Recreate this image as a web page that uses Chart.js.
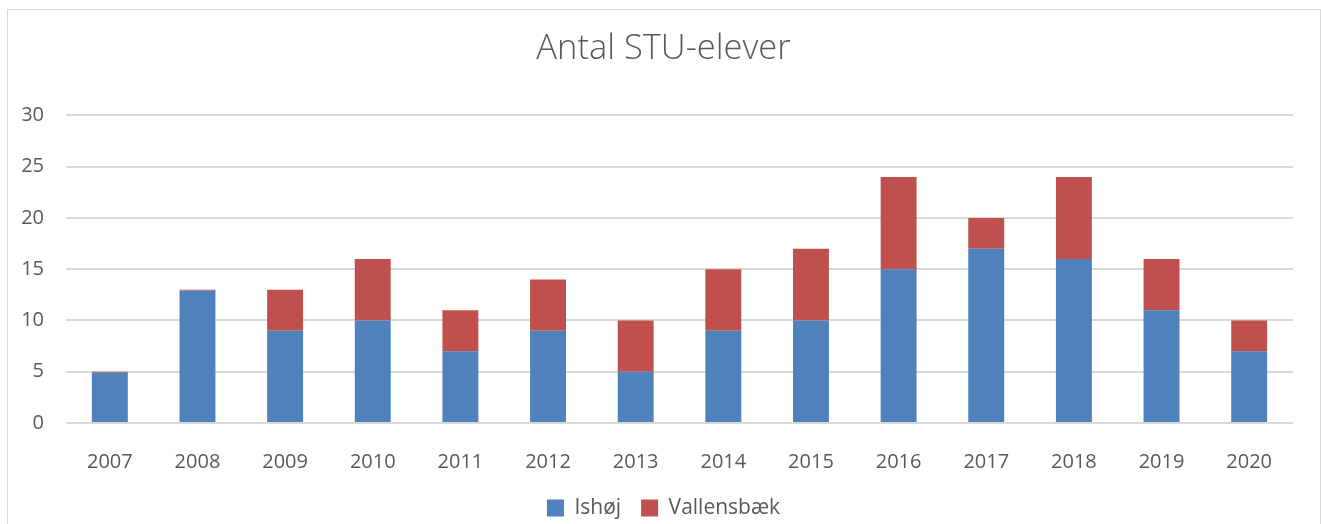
<!DOCTYPE html>
<html>
<head>
<meta charset="utf-8">
<script src="https://cdn.jsdelivr.net/npm/chart.js@4.4.1/dist/chart.umd.min.js"></script>
<style>
  html, body { margin: 0; padding: 0; background: #fff; }
  #wrap { position: relative; width: 1321px; height: 524px; }
  #ramme { position: absolute; left: 7px; top: 9px; width: 1312px; height: 530px; border: 1px solid #d9d9d9; }
  canvas { position: absolute; left: 0; top: 0; }
</style>
</head>
<body>
<div id="wrap">
  <div id="ramme"></div>
  <canvas id="myChart" width="1321" height="524"></canvas>
</div>
<script>
// Data
const aar = ['2007', '2008', '2009', '2010', '2011', '2012', '2013', '2014', '2015', '2016', '2017', '2018', '2019', '2020'];
const ishoj = [4.9, 12.9, 9, 10, 7, 9, 5, 9, 10, 15, 17, 16, 11, 7];
const vallensbaek = [0.1, 0.1, 4, 6, 4, 5, 5, 6, 7, 9, 3, 8, 5, 3];
const yTicks = [0, 5, 10, 15, 20, 25, 30];

const tekstFarve = '#595959';
const gitterFarve = '#d9d9d9';

const ctx = document.getElementById('myChart').getContext('2d');
const miGrafica = new Chart(ctx, {
    type: 'bar',
    data: {
        labels: aar,
        datasets: [
            { label: 'Ishøj', data: ishoj, backgroundColor: '#4f81bd', categoryPercentage: 0.82, barPercentage: 0.5 },
            { label: 'Vallensbæk', data: vallensbaek, backgroundColor: '#c0504d', categoryPercentage: 0.82, barPercentage: 0.5 }
        ]
    },
    options: {
        responsive: false,
        animation: false,
        layout: { padding: { left: 10, right: 4, top: 10, bottom: -4.5 } },
        plugins: {
            title: {
                display: true,
                text: 'Antal STU-elever',
                color: tekstFarve,
                font: { family: 'Open Sans', size: 34.5, weight: '300' },
                padding: { top: 18, bottom: 46 }
            },
            legend: {
                position: 'bottom',
                labels: {
                    color: tekstFarve,
                    font: { family: 'Open Sans', size: 21 },
                    boxWidth: 17, boxHeight: 17, padding: 20
                }
            },
            tooltip: { enabled: false }
        },
        scales: {
            x: {
                stacked: true,
                afterFit: s => { s.height = 54.5; },
                grid: { display: false, drawTicks: false },
                border: { display: false },
                ticks: { color: tekstFarve, font: { family: 'Open Sans', size: 20 }, padding: 27, maxRotation: 0 }
            },
            y: {
                stacked: true,
                min: 0, max: 30,
                afterFit: s => { s.width = 56; },
                afterBuildTicks: s => { s.ticks = yTicks.map(v => ({ value: v })); },
                grid: { color: gitterFarve, lineWidth: 2, drawTicks: false },
                border: { display: false },
                ticks: { color: tekstFarve, font: { family: 'Open Sans', size: 20 }, padding: 22 }
            },
            hoejre: {
                position: 'right',
                afterFit: s => { s.width = 24; },
                grid: { display: false, drawTicks: false },
                border: { display: false },
                ticks: { display: false }
            }
        }
    }
});
</script>
</body>
</html>
